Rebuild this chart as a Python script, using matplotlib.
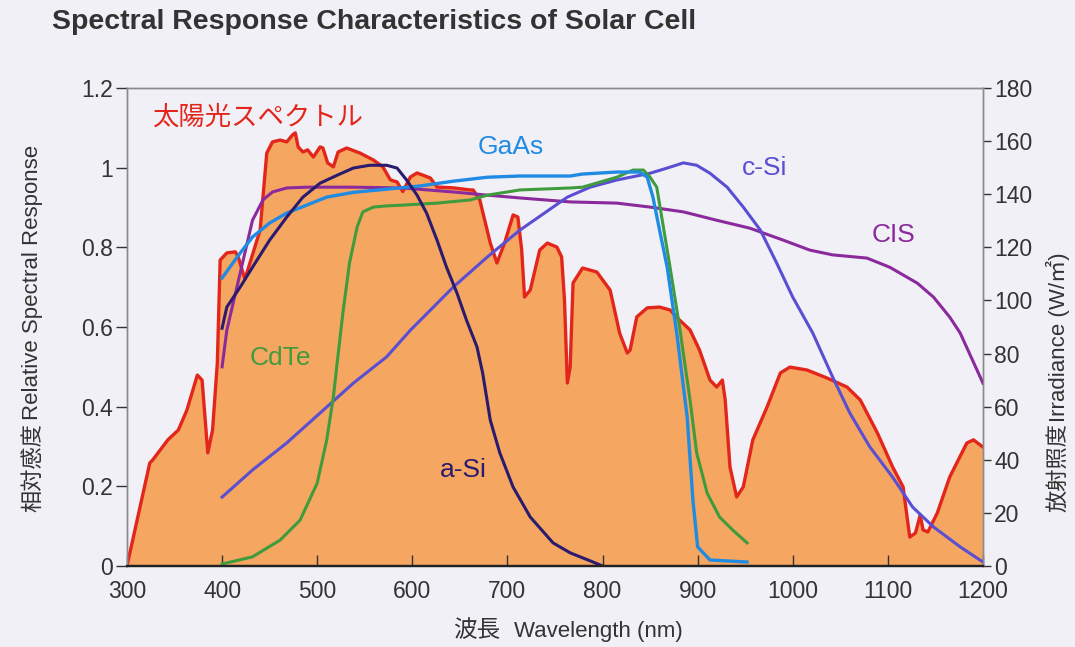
import matplotlib
matplotlib.use("Agg")
import matplotlib.pyplot as plt

plt.rcParams["font.family"] = ["Liberation Sans", "Noto Sans CJK JP", "DejaVu Sans"]
JP = ["Noto Sans CJK JP", "Liberation Sans", "DejaVu Sans"]

# solar spectrum (W/m2 per band, right axis)
spec_nm = [300, 324, 327, 335, 343, 354, 363, 374, 379, 385, 390, 395, 398, 405, 414, 417,
           424, 440, 447, 453, 461, 468, 474, 477, 480, 485, 490, 496, 503, 506, 511, 517,
           522, 531, 545, 559, 569, 577, 584, 590, 598, 605, 611, 619, 626, 643, 661, 664,
           671, 682, 689, 697, 706, 711, 715, 718, 724, 734, 742, 752, 757, 760, 763, 766,
           769, 779, 794, 808, 818, 826, 829, 836, 847, 860, 871, 881, 892, 902, 913, 920,
           926, 929, 934, 941, 948, 958, 973, 987, 997, 1015, 1036, 1057, 1071, 1089, 1105,
           1116, 1123, 1129, 1134, 1137, 1142, 1152, 1165, 1183, 1190, 1200]
spec_w = [0, 38.8, 39.9, 43.7, 47.5, 51.2, 58.7, 71.9, 70.0, 42.6, 51.2, 76.4, 115.2, 117.9,
          118.3, 116.4, 108.0, 126.5, 155.5, 159.7, 160.4, 159.7, 162.3, 163.1, 157.8, 155.9,
          156.7, 154.0, 157.8, 157.4, 151.8, 150.3, 155.9, 157.4, 155.5, 152.9, 150.3, 145.4,
          144.6, 141.0, 146.5, 148.0, 147.2, 146.1, 142.7, 142.4, 141.6, 141.6, 137.8, 121.6,
          114.1, 121.6, 132.2, 131.4, 119.0, 101.3, 103.9, 119.0, 121.6, 120.1, 116.4, 100.2,
          68.9, 74.9, 106.6, 112.2, 110.7, 103.9, 87.7, 80.2, 81.3, 93.8, 97.2, 97.5, 96.4,
          92.6, 88.9, 81.3, 70.0, 67.4, 70.0, 62.5, 37.3, 26.0, 29.8, 47.5, 59.9, 72.7, 74.9,
          73.8, 70.8, 67.4, 62.5, 50.1, 37.3, 29.8, 10.9, 12.4, 19.2, 13.6, 12.8, 20.0, 33.5,
          46.3, 47.5, 44.8]

# relative spectral response (left axis)
gaas_nm = [400, 416, 432, 450, 468, 489, 510, 538, 573, 608, 643, 679, 713, 766, 779, 815,
           839, 847, 853, 860, 868, 878, 889, 895, 900, 913, 952]
gaas = [0.723, 0.776, 0.826, 0.861, 0.886, 0.906, 0.926, 0.938, 0.946, 0.954, 0.966, 0.976,
        0.979, 0.979, 0.984, 0.989, 0.989, 0.976, 0.926, 0.843, 0.750, 0.585, 0.374, 0.166,
        0.048, 0.015, 0.010]

cdte_nm = [400, 432, 461, 482, 500, 510, 517, 521, 527, 534, 542, 548, 559, 573, 590, 626,
           661, 679, 713, 766, 779, 815, 832, 843, 850, 857, 871, 881, 892, 899, 910, 923,
           937, 952]
cdte = [0.005, 0.023, 0.065, 0.115, 0.208, 0.316, 0.424, 0.510, 0.635, 0.761, 0.851, 0.889,
        0.901, 0.904, 0.906, 0.911, 0.919, 0.931, 0.944, 0.949, 0.951, 0.976, 0.994, 0.994,
        0.976, 0.951, 0.750, 0.600, 0.417, 0.284, 0.183, 0.123, 0.090, 0.058]

asi_nm = [400, 405, 419, 432, 450, 468, 485, 503, 521, 538, 555, 573, 584, 594, 605, 615,
          626, 636, 647, 657, 668, 674, 682, 692, 706, 724, 748, 766, 790, 800]
asi = [0.597, 0.650, 0.700, 0.750, 0.818, 0.876, 0.926, 0.961, 0.981, 0.999, 1.006, 1.006,
       0.999, 0.969, 0.931, 0.886, 0.818, 0.750, 0.685, 0.617, 0.550, 0.484, 0.366, 0.284,
       0.198, 0.123, 0.058, 0.033, 0.010, 0.0]

csi_nm = [400, 432, 468, 503, 538, 573, 598, 643, 679, 713, 748, 763, 787, 815, 850, 868,
          885, 899, 913, 931, 948, 966, 983, 1000, 1021, 1042, 1060, 1081, 1105, 1126, 1148,
          1176, 1200]
csi = [0.173, 0.241, 0.309, 0.384, 0.459, 0.525, 0.592, 0.700, 0.776, 0.843, 0.901, 0.926,
       0.951, 0.969, 0.986, 0.999, 1.012, 1.006, 0.986, 0.951, 0.901, 0.843, 0.761, 0.675,
       0.585, 0.474, 0.384, 0.299, 0.223, 0.148, 0.098, 0.048, 0.010]

cis_nm = [400, 405, 419, 432, 443, 453, 468, 489, 538, 590, 643, 679, 713, 766, 815, 850,
          885, 920, 955, 990, 1018, 1042, 1078, 1102, 1131, 1148, 1165, 1176, 1200]
cis = [0.500, 0.592, 0.735, 0.868, 0.919, 0.939, 0.949, 0.951, 0.951, 0.949, 0.939, 0.931,
       0.924, 0.914, 0.911, 0.901, 0.889, 0.868, 0.848, 0.818, 0.793, 0.781, 0.773, 0.750,
       0.710, 0.675, 0.625, 0.585, 0.459]

x_ticks = [300, 400, 500, 600, 700, 800, 900, 1000, 1100, 1200]
left_ticks = [0, 0.2, 0.4, 0.6, 0.8, 1.0, 1.2]
left_labels = ["0", "0.2", "0.4", "0.6", "0.8", "1", "1.2"]
right_ticks = [0, 20, 40, 60, 80, 100, 120, 140, 160, 180]

BG = "#f1f0f6"
fig = plt.figure(figsize=(10.75, 6.47), dpi=100, facecolor=BG)
ax2 = fig.add_axes([0.1181, 0.1252, 0.7963, 0.7388])
ax = ax2.twinx()
ax.set_zorder(ax2.get_zorder() + 1)
ax.patch.set_visible(False)
ax2.set_facecolor(BG)

# spectrum on the irradiance axis
ax2.fill_between(spec_nm, spec_w, 0, color="#f5a661", lw=0)
ax2.plot(spec_nm, spec_w, color="#e3261b", lw=2.4, solid_joinstyle="round")
ax2.set_ylim(0, 180)
ax2.yaxis.tick_right()
ax2.set_yticks(right_ticks)

ax.yaxis.tick_left()
ax.plot(cis_nm, cis, color="#8a2a9c", lw=2.2)
ax.plot(csi_nm, csi, color="#5a4fd2", lw=2.2)
ax.plot(cdte_nm, cdte, color="#3f9b3c", lw=2.2)
ax.plot(gaas_nm, gaas, color="#1f8be3", lw=2.4)
ax.plot(asi_nm, asi, color="#2a1b6e", lw=2.2)
ax.set_ylim(0, 1.2)
ax.set_xlim(300, 1200)
ax.set_yticks(left_ticks)
ax.set_yticklabels(left_labels)
ax2.set_xticks(x_ticks)

ax.tick_params(axis="y", direction="out", length=8, width=1, colors="#333333",
               labelsize=16.5, pad=2)
ax2.tick_params(axis="y", direction="out", length=6, width=1, colors="#333333",
                labelsize=16.5, pad=2)
ax2.tick_params(axis="x", direction="in", length=8, width=1, colors="#333333",
                labelsize=16.5, pad=10)
ax.tick_params(axis="x", bottom=False, labelbottom=False)

for a in (ax, ax2):
    for s in ("top", "left", "right"):
        a.spines[s].set_color("#8a8a8a")
        a.spines[s].set_linewidth(1.0)
    a.spines["bottom"].set_color("#222222")
    a.spines["bottom"].set_linewidth(1.6)

# curve labels
ax.text(326, 1.127, "太陽光スペクトル", color="#e3261b", fontsize=19, family=JP,
        va="center", ha="left")
ax.text(669, 1.052, "GaAs", color="#1f8be3", fontsize=19, va="center")
ax.text(946, 1.0, "c-Si", color="#5a4fd2", fontsize=19, va="center")
ax.text(1083, 0.831, "CIS", color="#8a2a9c", fontsize=19, va="center")
ax.text(429, 0.522, "CdTe", color="#3f9b3c", fontsize=19, va="center")
ax.text(629, 0.241, "a-Si", color="#2a1b6e", fontsize=19, va="center")

# title and axis labels
fig.text(52 / 1075, 1 - 22 / 647, "Spectral Response Characteristics of Solar Cell",
         fontsize=20.5, fontweight="bold", color="#333333", va="center", ha="left")
fig.text(33 / 1075, 1 - 512 / 647, "相対感度", rotation=90, family=JP, fontsize=16,
         color="#333333", ha="center", va="bottom")
fig.text(33 / 1075, 1 - 420 / 647, "Relative Spectral Response", rotation=90,
         fontsize=16, color="#333333", ha="center", va="bottom")
fig.text(1058 / 1075, 1 - 512 / 647, "放射照度", rotation=90, family=JP, fontsize=16,
         color="#333333", ha="center", va="bottom")
fig.text(1058 / 1075, 1 - 422 / 647, "Irradiance (W/㎡)", rotation=90,
         family=["Liberation Sans", "Noto Sans CJK JP", "DejaVu Sans"], fontsize=16,
         color="#333333", ha="center", va="bottom")
fig.text(500 / 1075, 1 - 631 / 647, "波長", family=JP, fontsize=17, color="#333333",
         ha="right", va="center")
fig.text(514 / 1075, 1 - 631 / 647, "Wavelength (nm)", fontsize=16, color="#333333",
         ha="left", va="center")

fig.savefig("out.png", dpi=100, facecolor=BG)
